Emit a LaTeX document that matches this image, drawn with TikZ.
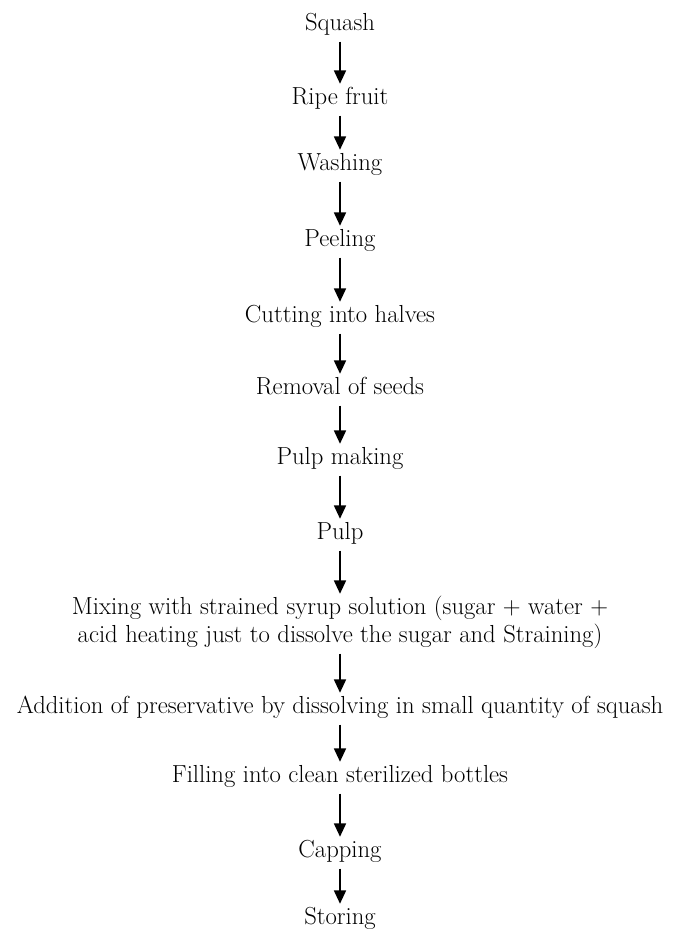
\documentclass[tikz,border=0pt]{standalone}
\usepackage{tikz}
\usetikzlibrary{arrows.meta}
\tikzset{
    step-text/.style = {anchor=base, align=center, inner xsep=0pt, inner ysep=2pt, text height=13pt, text depth=6.5pt, font=\fontsize{18.5}{21}\selectfont},
    flow-arrow/.style = {line width=1.3pt, -{Triangle[width=9pt, length=10pt]}},
}

\begin{document}
\begin{tikzpicture}[x=0.75pt, y=-0.75pt]
\useasboundingbox (0,0) rectangle (676,929);
\node [step-text] (squash) at (340,30) {Squash};
\node [step-text] (ripe) at (340,104) {Ripe fruit};
\node [step-text] (wash) at (340,170) {Washing};
\node [step-text] (peel) at (340,246) {Peeling};
\node [step-text] (cut) at (340,322) {Cutting into halves};
\node [step-text] (seeds) at (340,394) {Removal of seeds};
\node [step-text] (making) at (340,464) {Pulp making};
\node [step-text] (pulp) at (340,539) {Pulp};
\node [step-text, text height=34pt] (mix) at (340,642) {Mixing with strained syrup solution (sugar + water +\\
    acid heating just to dissolve the sugar and Straining)};
\node [step-text] (pres) at (340,713) {Addition of preservative by dissolving in small quantity of squash};
\node [step-text] (fill) at (340,782) {Filling into clean sterilized bottles};
\node [step-text] (cap) at (340,857) {Capping};
\node [step-text] (store) at (340,924) {Storing};

\draw [flow-arrow] (squash) -- (ripe);
\draw [flow-arrow] (ripe) -- (wash);
\draw [flow-arrow] (wash) -- (peel);
\draw [flow-arrow] (peel) -- (cut);
\draw [flow-arrow] (cut) -- (seeds);
\draw [flow-arrow] (seeds) -- (making);
\draw [flow-arrow] (making) -- (pulp);
\draw [flow-arrow] (pulp) -- (mix);
\draw [flow-arrow] (mix) -- (pres);
\draw [flow-arrow] (pres) -- (fill);
\draw [flow-arrow] (fill) -- (cap);
\draw [flow-arrow] (cap) -- (store);
\end{tikzpicture}
\end{document}
